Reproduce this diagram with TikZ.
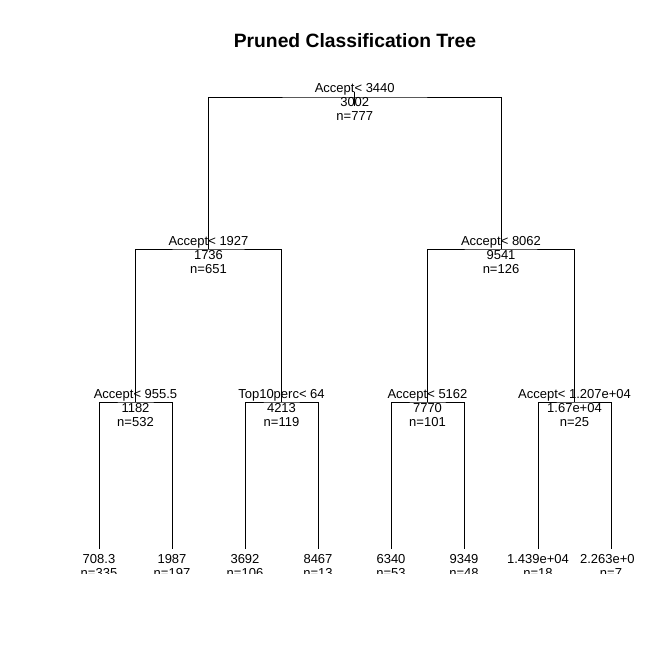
\documentclass[tikz,border=0pt]{standalone}
\usepackage{fontspec}
\setmainfont{Liberation Sans}
\tikzset{lab/.style={font=\fontsize{13}{13}\selectfont, inner sep=0pt, anchor=base},
         branch/.style={line width=0.8pt}}
% labels of a split: rule above the bar, fitted value and count below
\newcommand{\splitlabels}[4]
{   \node[lab] (#1s) at ([yshift=4pt]#1) {#2};
    \node[lab] (#1v) at ([yshift=-10pt]#1) {#3};
    \node[lab] (#1n) at ([yshift=-24pt]#1) {#4};
}
\newcommand{\leaflabels}[3]
{   \node[lab] (#1v) at ([yshift=-14pt]#1) {#2};
    \node[lab] (#1n) at ([yshift=-28pt]#1) {#3};
}

\begin{document}
\begin{tikzpicture}[x=1pt,y=-1pt]
 \useasboundingbox[fill=white] (0,0) rectangle (672,671);
 \node[font=\bfseries\fontsize{19.3}{20}\selectfont, inner sep=0pt, anchor=base] (title) at (355,48) {Pruned Classification Tree};

 \begin{scope}
 \clip (0,0) rectangle (633,573.5);
   \coordinate (r) at (354.75,97);
   \coordinate (a) at (208.5,249);   \coordinate (b) at (501,249);
   \coordinate (aa) at (135.5,402);  \coordinate (ab) at (281.5,402);
   \coordinate (ba) at (427.5,402);  \coordinate (bb) at (574.5,402);
   \coordinate (l1) at (99,549);  \coordinate (l2) at (172,549);
   \coordinate (l3) at (245,549); \coordinate (l4) at (318,549);
   \coordinate (l5) at (391,549); \coordinate (l6) at (464,549);
   \coordinate (l7) at (538,549); \coordinate (l8) at (611,549);

   \draw[branch] ([yshift=5pt]r) -- ([yshift=-9pt]r);
   \draw[branch] (a) |- (r) -| (b);
   \draw[branch] (aa) |- (a) -| (ab);
   \draw[branch] (ba) |- (b) -| (bb);
   \draw[branch] (l1) |- (aa) -| (l2);
   \draw[branch] (l3) |- (ab) -| (l4);
   \draw[branch] (l5) |- (ba) -| (l6);
   \draw[branch] (l7) |- (bb) -| (l8);

   \splitlabels{r}{Accept< 3440}{3002}{n=777}
   \splitlabels{a}{Accept< 1927}{1736}{n=651}
   \splitlabels{b}{Accept< 8062}{9541}{n=126}
   \splitlabels{aa}{Accept< 955.5}{1182}{n=532}
   \splitlabels{ab}{Top10perc< 64}{4213}{n=119}
   \splitlabels{ba}{Accept< 5162}{7770}{n=101}
   \splitlabels{bb}{Accept< 1.207e+04}{1.67e+04}{n=25}
   \leaflabels{l1}{708.3}{n=335}
   \leaflabels{l2}{1987}{n=197}
   \leaflabels{l3}{3692}{n=106}
   \leaflabels{l4}{8467}{n=13}
   \leaflabels{l5}{6340}{n=53}
   \leaflabels{l6}{9349}{n=48}
   \leaflabels{l7}{1.439e+04}{n=18}
   \leaflabels{l8}{2.263e+04}{n=7}
 \end{scope}

\end{tikzpicture}
\end{document}
